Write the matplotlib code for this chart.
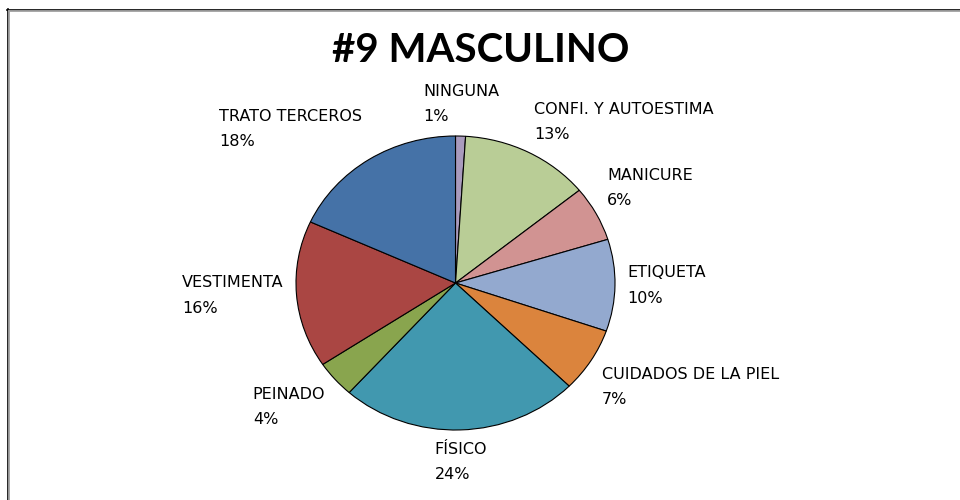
import numpy as np
import matplotlib
matplotlib.use("Agg")
import matplotlib.pyplot as plt
from matplotlib.lines import Line2D

categories = ["NINGUNA", "CONFI. Y AUTOESTIMA", "MANICURE", "ETIQUETA",
              "CUIDADOS DE LA PIEL", "FÍSICO", "PEINADO", "VESTIMENTA",
              "TRATO TERCEROS"]
values = [1, 13, 6, 10, 7, 24, 4, 16, 18]
colors = ["#A99BBD", "#B9CD96", "#D19392", "#93A9CF", "#DB843D",
          "#4198AF", "#89A54E", "#AA4643", "#4572A7"]
title = "#9 MASCULINO"

W, H = 960, 500
fig = plt.figure(figsize=(W / 100, H / 100), dpi=100)
fig.patch.set_facecolor("white")

# pie axes (slightly elliptical like the reference)
cx, cy, rx, ry = 455.5, 283, 159.5, 147
ax = fig.add_axes([(cx - rx) / W, (H - cy - ry) / H, 2 * rx / W, 2 * ry / H])
wedges, _ = ax.pie(values, colors=colors, startangle=90, counterclock=False,
                   wedgeprops=dict(edgecolor="black", linewidth=0.8))
ax.set_aspect("auto")
ax.set_xlim(-1, 1)
ax.set_ylim(-1, 1)
ax.axis("off")

total = sum(values)
r_lab = 1.08
for w, cat, v in zip(wedges, categories, values):
    ang = np.deg2rad((w.theta1 + w.theta2) / 2)
    c, s = np.cos(ang), np.sin(ang)
    ha = "left" if c > 0.3 else ("right" if c < -0.3 else "center")
    va = "bottom" if s > 0.3 else ("top" if s < -0.3 else "center")
    pct = round(100 * v / total)
    ax.text(r_lab * c, r_lab * s, f"{cat}\n{pct}%", ha=ha, va=va,
            multialignment="left", fontsize=11.5, family="DejaVu Sans",
            linespacing=1.85, clip_on=False)

fig.text(481 / W, (H - 62) / H, title, ha="center", va="baseline",
         fontsize=29, fontweight="bold", family="Lato")

# chart frame (top and left edges with gray shadow)
fig.add_artist(Line2D([7 / W, 1], [1 - 9.5 / H, 1 - 9.5 / H], color="black", lw=1.2))
fig.add_artist(Line2D([7.5 / W, 7.5 / W], [0, 1 - 9 / H], color="black", lw=1.2))
fig.add_artist(Line2D([9 / W, 1], [1 - 11.3 / H, 1 - 11.3 / H], color="#A0A0A0", lw=1.3))
fig.add_artist(Line2D([9.3 / W, 9.3 / W], [0, 1 - 11 / H], color="#A0A0A0", lw=1.3))

fig.savefig("out.png", dpi=100)
